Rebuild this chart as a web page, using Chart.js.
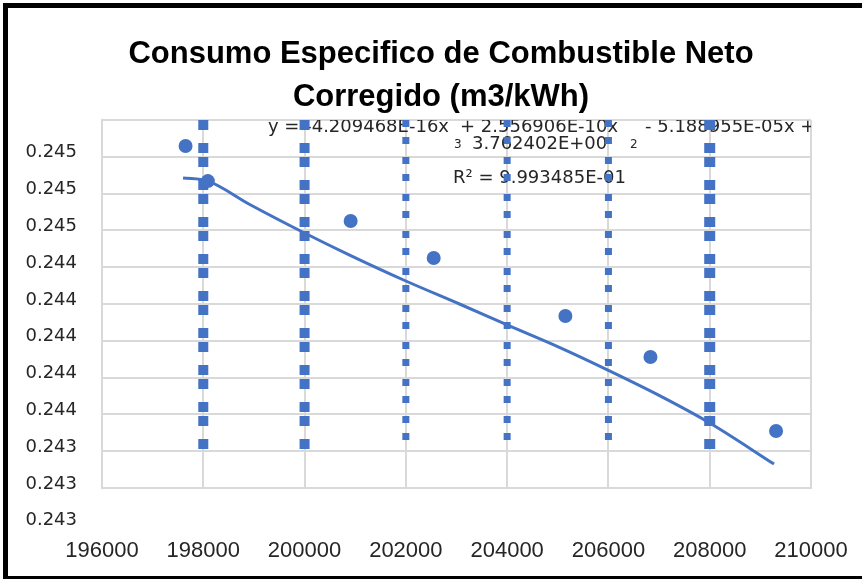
<!DOCTYPE html>
<html>
<head>
<meta charset="utf-8">
<script src="https://cdn.jsdelivr.net/npm/chart.js@4.4.1/dist/chart.umd.min.js"></script>
<style>
  html, body { margin: 0; padding: 0; background: #fff; }
  #wrap { position: relative; width: 866px; height: 579px; overflow: hidden; }
  #chart { position: absolute; left: 0; top: 0; }
  #frame {
    position: absolute; left: 3px; top: 3px; width: 854px; height: 568px;
    border-top: 5px solid #000; border-left: 5px solid #000; border-bottom: 3px solid #000;
    pointer-events: none;
  }
</style>
</head>
<body>
<div id="wrap">
  <canvas id="chart" width="866" height="579"></canvas>
  <div id="frame"></div>
</div>
<script>
// measured points (generacion neta vs consumo especifico)
const xValues = [197650, 198090, 200910, 202550, 205150, 206830, 209310];
const yValues = [0.245059, 0.244868, 0.244651, 0.244450, 0.244135, 0.243912, 0.243510];

// polynomial trendline
const trendX = [197600, 198090, 198918, 200000, 200890, 202000, 203059, 204000, 205031, 206000, 207000, 208000, 209270];
const trendY = [0.244885, 0.244868, 0.244741, 0.244586, 0.244466, 0.244325, 0.244200, 0.244086, 0.243964, 0.243839, 0.243703, 0.243553, 0.243330];

// dotted vertical lines
const dashX = [198000, 200000, 202000, 204000, 206000, 208000];
const dashTop = 0.2452;
const dashBottom = 0.24341;

// y tick labels as shown (rounded to 3 decimals)
const yTickValues = [0.2430, 0.2432, 0.2434, 0.2436, 0.2438, 0.2440, 0.2442, 0.2444, 0.2446, 0.2448, 0.2450];
const yTickLabels = ['0.243', '0.243', '0.243', '0.244', '0.244', '0.244', '0.244', '0.244', '0.245', '0.245', '0.245'];

const titleLines = ['Consumo Especifico de Combustible Neto', 'Corregido (m3/kWh)'];
const eqParts = ['y = -4.209468E-16x', '+ 2.556906E-10x', '- 5.188955E-05x + 3.762402E+00'];
const eqConst = '3.762402E+00';
const r2Text = 'R\u00b2 = 9.993485E-01';

const blue = '#4472C4';
const textColor = '#262626';
const dashWidths = [10, 10, 7, 7, 7, 11];
const thickDash = [10, 13, 10, 4];
const thinDash = [7, 10, 7, 13];

function labelFor(value) {
  const i = yTickValues.findIndex(v => Math.abs(v - value) < 1e-7);
  return i < 0 ? '' : yTickLabels[i];
}

// title drawn by hand: it is centred a bit right of the canvas middle
const titlePlugin = {
  id: 'hTitle',
  afterDraw(chart) {
    const { ctx } = chart;
    ctx.save();
    ctx.fillStyle = '#000';
    ctx.font = 'bold 31px "Liberation Sans", Arial, sans-serif';
    ctx.textAlign = 'center';
    ctx.textBaseline = 'alphabetic';
    ctx.fillText(titleLines[0], 441, 63);
    ctx.fillText(titleLines[1], 441, 106);
    ctx.restore();
  }
};

// equation text sits under the dotted lines, so draw it before the datasets
const equationPlugin = {
  id: 'equation',
  beforeDatasetsDraw(chart) {
    const { ctx, chartArea } = chart;
    const L = chartArea.left;
    ctx.save();
    ctx.beginPath();
    ctx.rect(chartArea.left, chartArea.top, chartArea.right - chartArea.left, chartArea.bottom - chartArea.top);
    ctx.clip();
    ctx.fillStyle = textColor;
    ctx.textBaseline = 'alphabetic';
    ctx.textAlign = 'left';
    ctx.font = '18px "DejaVu Sans"';
    ctx.fillText(eqParts[0], L + 166, 132);
    ctx.fillText(eqParts[1], L + 358, 132);
    ctx.fillText(eqParts[2], L + 543, 132);
    ctx.fillText(eqConst, L + 370, 149);
    ctx.fillText(r2Text, L + 351, 183);
    ctx.font = '12px "DejaVu Sans"';
    ctx.fillText('3', L + 352, 148);
    ctx.fillText('2', L + 528, 148);
    ctx.restore();
  }
};

// the lowest y label sits below the plot area
const extraLabelPlugin = {
  id: 'extraLabel',
  afterDraw(chart) {
    const y = chart.scales.y;
    const { ctx } = chart;
    ctx.save();
    ctx.fillStyle = textColor;
    ctx.font = '18px "DejaVu Sans"';
    ctx.textAlign = 'right';
    ctx.textBaseline = 'middle';
    ctx.fillText(yTickLabels[0], y.right - 25, y.getPixelForValue(yTickValues[0]) - 4);
    ctx.restore();
  }
};

const datasets = [
  {
    label: 'Consumo',
    data: xValues.map((x, i) => ({ x: x, y: yValues[i] })),
    pointRadius: 7,
    pointHoverRadius: 7,
    backgroundColor: blue,
    borderWidth: 0,
    showLine: false,
    order: 0
  },
  {
    label: 'Polinomica',
    data: trendX.map((x, i) => ({ x: x, y: trendY[i] })),
    showLine: true,
    pointRadius: 0,
    borderColor: blue,
    borderWidth: 3,
    cubicInterpolationMode: 'monotone',
    order: 1
  }
];

dashX.forEach((x, i) => {
  datasets.push({
    label: 'linea ' + x,
    data: [{ x: x, y: dashTop }, { x: x, y: dashBottom }],
    showLine: true,
    pointRadius: 0,
    borderColor: blue,
    borderWidth: dashWidths[i],
    borderDash: dashWidths[i] > 8 ? thickDash : thinDash,
    borderCapStyle: 'butt',
    order: 2
  });
});

new Chart(document.getElementById('chart'), {
  type: 'scatter',
  data: { datasets: datasets },
  plugins: [equationPlugin, extraLabelPlugin, titlePlugin],
  options: {
    responsive: false,
    animation: false,
    layout: { padding: { left: 25, right: 55, top: 120, bottom: 15 } },
    plugins: {
      legend: { display: false },
      tooltip: { enabled: false },
      title: { display: false }
    },
    scales: {
      x: {
        type: 'linear',
        min: 196000,
        max: 210000,
        afterFit: s => { s.height = 76; s.paddingLeft = 0; s.paddingRight = 0; },
        ticks: {
          stepSize: 2000,
          padding: 50,
          color: textColor,
          font: { family: '"Liberation Sans", Arial, sans-serif', size: 22 },
          callback: v => String(v)
        },
        grid: { color: '#d9d9d9', lineWidth: 2, drawTicks: false },
        border: { color: '#d9d9d9', width: 2 }
      },
      y: {
        type: 'linear',
        min: 0.2432,
        max: 0.2452,
        afterFit: s => { s.width = 77; },
        ticks: {
          stepSize: 0.0002,
          padding: 25,
          labelOffset: -4,
          color: textColor,
          font: { family: '"DejaVu Sans", sans-serif', size: 18 },
          callback: v => labelFor(v)
        },
        grid: { color: '#d9d9d9', lineWidth: 2, drawTicks: false },
        border: { color: '#d9d9d9', width: 2 }
      }
    }
  }
});
</script>
</body>
</html>
